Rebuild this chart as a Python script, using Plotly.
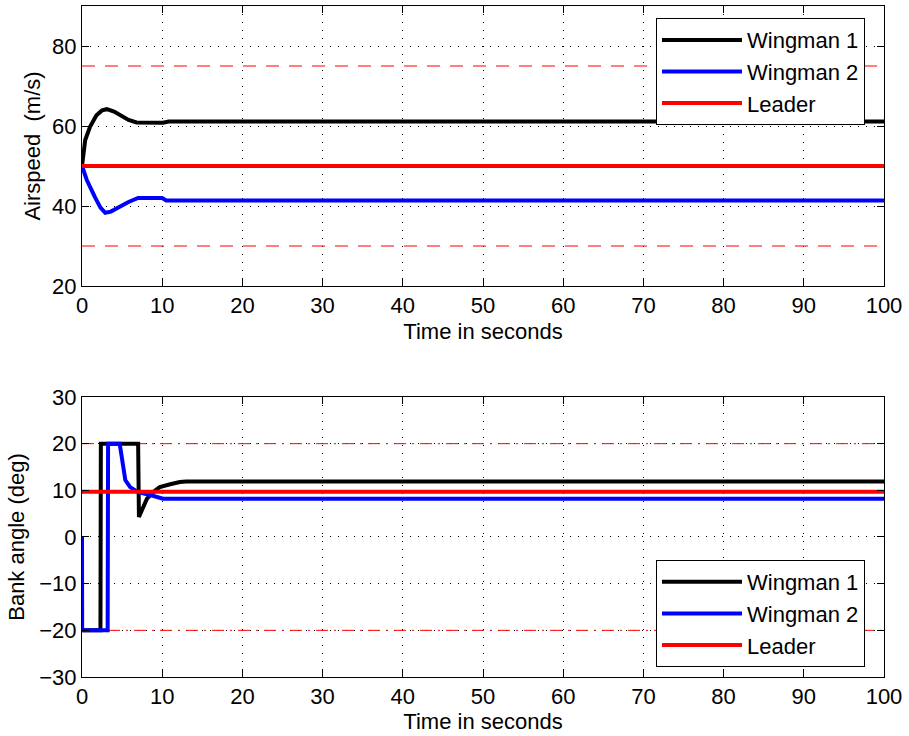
import plotly.graph_objects as go

# ---- Airspeed data (m/s) ----
t_w1_speed = [0, 0.4, 1.0, 1.8, 2.5, 3.1, 4.0, 4.7, 5.8, 6.8, 8.0, 10.1, 10.8, 20, 40, 60, 80, 100]
v_w1 = [50, 56.5, 59.8, 62.7, 63.9, 64.2, 63.6, 62.7, 61.5, 60.9, 60.8, 60.8, 61.1, 61.1, 61.1, 61.1, 61.1, 61.1]
t_w2_speed = [0, 0.6, 1.6, 2.3, 2.9, 3.6, 4.7, 5.8, 7.0, 10.0, 10.5, 20, 40, 60, 80, 100]
v_w2 = [50, 46.5, 42.3, 39.6, 38.3, 38.6, 39.8, 41.0, 42.0, 42.0, 41.4, 41.4, 41.4, 41.4, 41.4, 41.4]
t_leader = [0, 100]
v_leader = [50, 50]
speed_upper = [75, 75]
speed_lower = [30, 30]

# ---- Bank angle data (deg) ----
t_w1_bank = [0, 0.05, 2.3, 2.35, 7.0, 7.1, 7.5, 8.1, 9.0, 9.7, 11.0, 12.2, 13, 30, 60, 100]
b_w1 = [-20, -20, -20, 20, 20, 4.3, 6.0, 8.2, 9.8, 10.7, 11.3, 11.8, 11.9, 11.9, 11.9, 11.9]
t_w2_bank = [0, 0.02, 3.2, 3.25, 4.7, 5.4, 6.0, 7.0, 8.5, 10.1, 30, 60, 100]
b_w2 = [0, -20, -20, 20, 20, 12.2, 10.7, 9.6, 9.0, 8.2, 8.2, 8.2, 8.2]
b_leader = [9.7, 9.7]
bank_upper = [20, 20]
bank_lower = [-20, -20]

x_ticks = [0, 10, 20, 30, 40, 50, 60, 70, 80, 90, 100]
speed_ticks = [20, 40, 60, 80]
bank_ticks = [-30, -20, -10, 0, 10, 20, 30]
bank_tick_text = ["\u221230", "\u221220", "\u221210", "0", "10", "20", "30"]

FONT = "Liberation Sans, Arial, sans-serif"
FS = 22
LW = 4

fig = go.Figure()

# top panel
for lim in (speed_upper, speed_lower):
    fig.add_trace(go.Scatter(x=t_leader, y=lim, mode="lines", line=dict(color="red", width=1, dash="13px,10px"),
                             showlegend=False, xaxis="x", yaxis="y", hoverinfo="skip"))
fig.add_trace(go.Scatter(x=t_w1_speed, y=v_w1, mode="lines", name="Wingman 1", line=dict(color="black", width=LW),
                         xaxis="x", yaxis="y", legend="legend"))
fig.add_trace(go.Scatter(x=t_w2_speed, y=v_w2, mode="lines", name="Wingman 2", line=dict(color="blue", width=LW),
                         xaxis="x", yaxis="y", legend="legend"))
fig.add_trace(go.Scatter(x=t_leader, y=v_leader, mode="lines", name="Leader", line=dict(color="red", width=LW),
                         xaxis="x", yaxis="y", legend="legend"))

# bottom panel
for lim in (bank_upper, bank_lower):
    fig.add_trace(go.Scatter(x=t_leader, y=lim, mode="lines", line=dict(color="red", width=1, dash="12px,6px,2px,6px"),
                             showlegend=False, xaxis="x2", yaxis="y2", hoverinfo="skip"))
fig.add_trace(go.Scatter(x=t_w1_bank, y=b_w1, mode="lines", name="Wingman 1", line=dict(color="black", width=LW),
                         xaxis="x2", yaxis="y2", legend="legend2"))
fig.add_trace(go.Scatter(x=t_w2_bank, y=b_w2, mode="lines", name="Wingman 2", line=dict(color="blue", width=LW),
                         xaxis="x2", yaxis="y2", legend="legend2"))
fig.add_trace(go.Scatter(x=t_leader, y=b_leader, mode="lines", name="Leader", line=dict(color="red", width=LW),
                         xaxis="x2", yaxis="y2", legend="legend2"))

axis_common = dict(showline=True, linecolor="black", linewidth=1, mirror="ticks", ticks="inside", ticklen=7,
                   tickcolor="black", showgrid=True, gridcolor="black", griddash="1px,7px", gridwidth=1,
                   zeroline=False, automargin=False, tickfont=dict(size=FS, color="black", family=FONT))

fig.update_layout(
    width=909, height=736,
    margin=dict(l=82, r=25, t=6, b=59, autoexpand=False),
    paper_bgcolor="white", plot_bgcolor="white",
    font=dict(family=FONT, color="black", size=FS),
    xaxis=dict(domain=[0, 1], range=[0, 100], tickvals=x_ticks, anchor="y",
               title=dict(text="Time in seconds", font=dict(size=FS), standoff=6), **axis_common),
    yaxis=dict(domain=[0.5827, 1], range=[20, 90], tickvals=speed_ticks, anchor="x", ticklabelstandoff=0,
               title=dict(text="Airspeed  (m/s)", font=dict(size=FS), standoff=5), **axis_common),
    xaxis2=dict(domain=[0, 1], range=[0, 100], tickvals=x_ticks, anchor="y2",
                title=dict(text="Time in seconds", font=dict(size=FS), standoff=5), **axis_common),
    yaxis2=dict(domain=[0, 0.4173], range=[-30, 30], tickvals=bank_ticks, ticktext=bank_tick_text, anchor="x2",
                ticklabelstandoff=0,
                title=dict(text="Bank angle (deg)", font=dict(size=FS), standoff=8), **axis_common),
    legend=dict(x=0.7157, y=0.982, xanchor="left", yanchor="top", bgcolor="white", bordercolor="black",
                borderwidth=1, font=dict(size=FS, family=FONT), tracegroupgap=0, itemwidth=80),
    legend2=dict(x=0.7157, y=0.1744, xanchor="left", yanchor="top", bgcolor="white", bordercolor="black",
                 borderwidth=1, font=dict(size=FS, family=FONT), tracegroupgap=0, itemwidth=80),
    showlegend=True,
)

fig.write_html("out.html")
